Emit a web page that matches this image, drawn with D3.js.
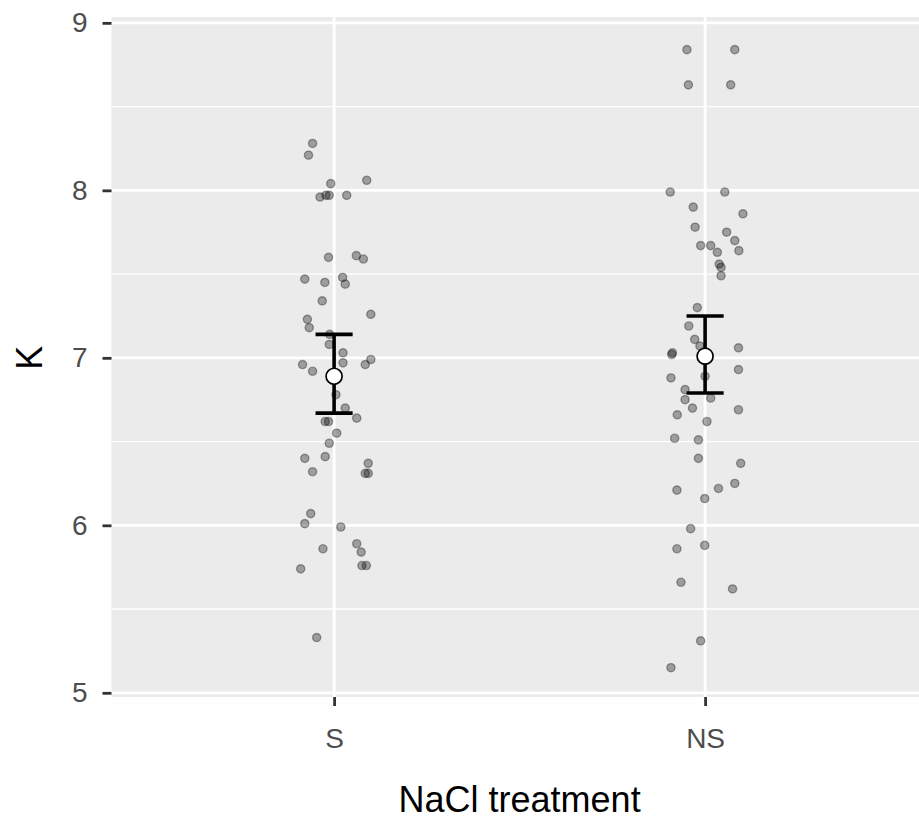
<!DOCTYPE html>
<html>
<head>
<meta charset="utf-8">
<script src="https://cdn.jsdelivr.net/npm/d3@7"></script>
<style>
  body { margin: 0; background: #fff; }
  svg { display: block; font-family: "Liberation Sans", Arial, sans-serif; }
</style>
</head>
<body>
<div id="visualization"></div>
<script>
const width = 919;
const height = 819;

// categories
const groups = ["S", "NS"];

// raw K values per group with their jitter offset (in category units)
const kS = [8.28, 8.21, 8.04, 8.06, 7.96, 7.97, 7.97, 7.97, 7.60, 7.61,
  7.59, 7.47, 7.45, 7.48, 7.44, 7.34, 7.26, 7.23, 7.18, 7.14,
  7.08, 7.03, 6.97, 6.99, 6.96, 6.96, 6.92, 6.78, 6.70, 6.64,
  6.62, 6.62, 6.55, 6.49, 6.40, 6.41, 6.32, 6.37, 6.31, 6.31,
  6.07, 6.01, 5.99, 5.86, 5.89, 5.84, 5.74, 5.76, 5.76, 5.33];
const jitterS = [-0.058, -0.069, -0.009, 0.088, -0.038, -0.022, -0.013, 0.034, -0.015, 0.060,
  0.079, -0.079, -0.025, 0.023, 0.030, -0.032, 0.099, -0.072, -0.067, -0.012,
  -0.013, 0.024, 0.024, 0.099, 0.084, -0.085, -0.058, 0.005, 0.030, 0.061,
  -0.024, -0.015, 0.007, -0.013, -0.079, -0.024, -0.058, 0.092, 0.084, 0.092,
  -0.063, -0.079, 0.018, -0.030, 0.061, 0.073, -0.090, 0.075, 0.087, -0.047];

const kNS = [8.84, 8.84, 8.63, 8.63, 7.99, 7.99, 7.90, 7.86, 7.78, 7.75,
  7.70, 7.64, 7.67, 7.67, 7.63, 7.56, 7.54, 7.49, 7.30, 7.19,
  7.11, 7.07, 7.02, 7.03, 7.06, 6.93, 6.88, 6.89, 6.81, 6.75,
  6.76, 6.70, 6.69, 6.66, 6.62, 6.52, 6.51, 6.40, 6.37, 6.21,
  6.16, 6.22, 6.25, 5.98, 5.86, 5.88, 5.66, 5.62, 5.31, 5.15];
const jitterNS = [-0.049, 0.080, -0.045, 0.069, -0.094, 0.053, -0.032, 0.102, -0.027, 0.058,
  0.080, 0.091, -0.012, 0.015, 0.033, 0.038, 0.043, 0.043, -0.021, -0.044,
  -0.028, -0.014, -0.090, -0.088, 0.090, 0.090, -0.092, 0.000, -0.054, -0.054,
  0.015, -0.034, 0.090, -0.075, 0.005, -0.082, -0.018, -0.018, 0.096, -0.076,
  -0.001, 0.036, 0.080, -0.039, -0.076, -0.001, -0.065, 0.074, -0.012, -0.092];

// summary: mean and error bar limits
const means = [6.89, 7.01];
const lower = [6.67, 6.79];
const upper = [7.14, 7.25];

const yTicks = [5, 6, 7, 8, 9];
const yMinor = [5.5, 6.5, 7.5, 8.5];

const points = [
  ...kS.map((k, i) => ({g: 1, jit: jitterS[i], k})),
  ...kNS.map((k, i) => ({g: 2, jit: jitterNS[i], k}))
];
const summary = groups.map((name, i) => ({g: i + 1, mean: means[i], lo: lower[i], hi: upper[i]}));

const panel = {left: 111.5, top: 17, bottom: 697};

const scaleX = d3.scaleLinear()
  .domain([0.4, 2.6])
  .range([panel.left, panel.left + 2.2 * 371]);
const scaleY = d3.scaleLinear()
  .domain([4.975, 9.035])
  .range([panel.bottom, panel.top]);

const svg = d3.select("#visualization").append("svg")
  .attr("width", width)
  .attr("height", height)
  .attr("viewBox", [0, 0, width, height]);

// panel background + grid
svg.append("rect")
  .attr("x", scaleX(0.4))
  .attr("y", panel.top)
  .attr("width", scaleX(2.6) - scaleX(0.4))
  .attr("height", panel.bottom - panel.top)
  .attr("fill", "#EBEBEB");

svg.append("g")
  .selectAll("line")
  .data(yMinor)
  .join("line")
  .attr("x1", scaleX(0.4)).attr("x2", scaleX(2.6))
  .attr("y1", d => scaleY(d)).attr("y2", d => scaleY(d))
  .attr("stroke", "#fff").attr("stroke-width", 1.4);

svg.append("g")
  .selectAll("line")
  .data(yTicks)
  .join("line")
  .attr("x1", scaleX(0.4)).attr("x2", scaleX(2.6))
  .attr("y1", d => scaleY(d)).attr("y2", d => scaleY(d))
  .attr("stroke", "#fff").attr("stroke-width", 2.8);

svg.append("g")
  .selectAll("line")
  .data([1, 2])
  .join("line")
  .attr("x1", d => scaleX(d)).attr("x2", d => scaleX(d))
  .attr("y1", panel.top).attr("y2", panel.bottom)
  .attr("stroke", "#fff").attr("stroke-width", 2.8);

// axes
const yAxis = svg.append("g")
  .attr("transform", `translate(${scaleX(0.4)}, 0)`)
  .call(d3.axisLeft(scaleY).tickValues(yTicks).tickFormat(d3.format("d")).tickSize(9).tickPadding(15));
const xAxis = svg.append("g")
  .attr("transform", `translate(0, ${panel.bottom})`)
  .call(d3.axisBottom(scaleX).tickValues([1, 2]).tickFormat(d => groups[d - 1]).tickSize(9).tickPadding(22));

[yAxis, xAxis].forEach(ax => {
  ax.attr("font-size", 28).attr("font-family", "Liberation Sans, Arial, sans-serif");
  ax.select(".domain").remove();
  ax.selectAll(".tick line").attr("stroke", "#333").attr("stroke-width", 2.8);
  ax.selectAll(".tick text").attr("fill", "#4D4D4D");
});

// jittered raw points
svg.append("g")
  .selectAll("circle")
  .data(points)
  .join("circle")
  .attr("cx", d => scaleX(d.g + d.jit))
  .attr("cy", d => scaleY(d.k))
  .attr("r", 4.1)
  .attr("fill", "rgba(0,0,0,0.33)")
  .attr("stroke", "rgba(0,0,0,0.33)")
  .attr("stroke-width", 1.4);

// error bars
const eb = svg.append("g").attr("stroke", "#000").attr("stroke-width", 3.6);
eb.selectAll(".vert")
  .data(summary)
  .join("line")
  .attr("x1", d => scaleX(d.g)).attr("x2", d => scaleX(d.g))
  .attr("y1", d => scaleY(d.lo)).attr("y2", d => scaleY(d.hi));
eb.selectAll(".capTop")
  .data(summary)
  .join("line")
  .attr("class", "capTop")
  .attr("x1", d => scaleX(d.g - 0.05)).attr("x2", d => scaleX(d.g + 0.05))
  .attr("y1", d => scaleY(d.hi)).attr("y2", d => scaleY(d.hi));
eb.selectAll(".capBot")
  .data(summary)
  .join("line")
  .attr("class", "capBot")
  .attr("x1", d => scaleX(d.g - 0.05)).attr("x2", d => scaleX(d.g + 0.05))
  .attr("y1", d => scaleY(d.lo)).attr("y2", d => scaleY(d.lo));

// means
svg.append("g")
  .selectAll("circle")
  .data(summary)
  .join("circle")
  .attr("cx", d => scaleX(d.g))
  .attr("cy", d => scaleY(d.mean))
  .attr("r", 8)
  .attr("fill", "#fff")
  .attr("stroke", "#000")
  .attr("stroke-width", 1.7);

// axis titles
svg.append("text")
  .attr("x", (scaleX(0.4) + scaleX(2.6)) / 2)
  .attr("y", 812)
  .attr("text-anchor", "middle")
  .attr("fill", "#000")
  .style("font-size", "36px")
  .text("NaCl treatment");

svg.append("text")
  .attr("transform", `translate(42, ${scaleY(7)}) rotate(-90)`)
  .attr("text-anchor", "middle")
  .attr("fill", "#000")
  .style("font-size", "36px")
  .text("K");
</script>
</body>
</html>
